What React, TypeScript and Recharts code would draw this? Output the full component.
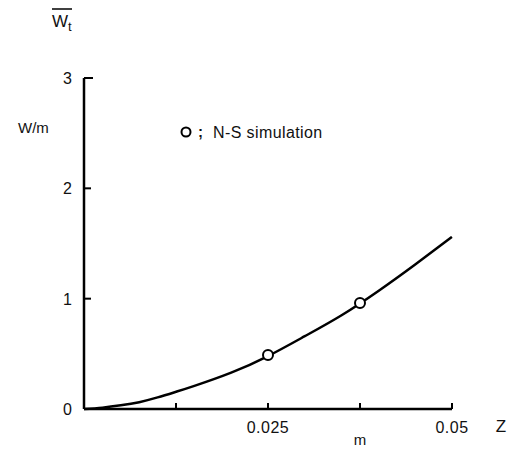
import React from "react";
import { ComposedChart, Line, Scatter, XAxis, YAxis } from "recharts";

// curve W/m vs Z
const CURVE_Z = [0, 0.0025, 0.005, 0.0075, 0.01, 0.0125, 0.015, 0.02, 0.025, 0.03, 0.035, 0.04, 0.045, 0.05];
const CURVE_W = [0, 0.012, 0.033, 0.062, 0.105, 0.156, 0.21, 0.33, 0.48, 0.66, 0.85, 1.07, 1.31, 1.56];

// N-S simulation points
const SIM_Z = [0.025, 0.0375];
const SIM_W = [0.49, 0.96];

const X_TICKS = [0, 0.0125, 0.025, 0.0375, 0.05];
const X_TICK_LABELS = ["", "", "0.025", "", "0.05"];
const Y_TICKS = [0, 1, 2, 3];
const Y_TICK_LABELS = ["0", "1", "2", "3"];

const FONT = "'Liberation Sans', Arial, sans-serif";

const curve = CURVE_Z.map((z, i) => ({ z, w: CURVE_W[i] }));
const sim = SIM_Z.map((z, i) => ({ z, w: SIM_W[i] }));

const XTick = (props: any) => {
  const { x, y, index } = props;
  return (
    <g>
      <line x1={x} y1={y} x2={x} y2={y - 6} stroke="#000" strokeWidth={2} />
      <text
        x={x}
        y={y + 24}
        textAnchor="middle"
        fontSize={16}
        letterSpacing={0.5}
        fontFamily={FONT}
        fill="#111"
      >
        {X_TICK_LABELS[index]}
      </text>
    </g>
  );
};

const YTick = (props: any) => {
  const { x, y, index } = props;
  const len = index === Y_TICKS.length - 1 ? 9 : 7;
  return (
    <g>
      <line x1={x} y1={y} x2={x + len} y2={y} stroke="#000" strokeWidth={2} />
      <text x={x - 12} y={y + 6} textAnchor="end" fontSize={16} fontFamily={FONT} fill="#111">
        {Y_TICK_LABELS[index]}
      </text>
    </g>
  );
};

const Circle = (props: any) => (
  <circle cx={props.cx} cy={props.cy} r={5} fill="#fff" stroke="#000" strokeWidth={2} />
);

export default function App() {
  return (
    <div style={{ position: "absolute", left: 0, top: 0, width: 511, height: 449, background: "#fff" }}>
      <ComposedChart width={511} height={449} margin={{ top: 78, right: 59, bottom: 0, left: 0 }}>
        <XAxis
          type="number"
          dataKey="z"
          domain={[0, 0.05]}
          ticks={X_TICKS}
          interval={0}
          tickSize={0}
          tickMargin={0}
          tickLine={false}
          tick={<XTick />}
          height={40}
          axisLine={{ stroke: "#000", strokeWidth: 2.5 }}
        />
        <YAxis
          type="number"
          dataKey="w"
          domain={[0, 3]}
          ticks={Y_TICKS}
          interval={0}
          tickSize={0}
          tickMargin={0}
          tickLine={false}
          tick={<YTick />}
          width={84}
          axisLine={{ stroke: "#000", strokeWidth: 2.5 }}
        />
        <Line
          data={curve}
          dataKey="w"
          type="natural"
          stroke="#000"
          strokeWidth={2.5}
          dot={false}
          isAnimationActive={false}
        />
        <Scatter data={sim} dataKey="w" shape={<Circle />} isAnimationActive={false} />
      </ComposedChart>
      <svg
        width={511}
        height={449}
        style={{ position: "absolute", left: 0, top: 0, pointerEvents: "none" }}
        fontFamily={FONT}
      >
        <line x1={52} y1={9} x2={72} y2={9} stroke="#000" strokeWidth={1.5} />
        <text x={52} y={27} fontSize={17} fill="#111">
          W
          <tspan fontSize={13} dy={4}>t</tspan>
        </text>
        <text x={18} y={133} fontSize={15} fill="#111">W/m</text>
        <circle cx={186} cy={132} r={4.5} fill="none" stroke="#000" strokeWidth={2} />
        <text x={198} y={137} fontSize={15} fontWeight="bold" fill="#111">;</text>
        <text x={213} y={138} fontSize={16} letterSpacing={0.4} fill="#111">N-S simulation</text>
        <text x={501} y={432} fontSize={17} textAnchor="middle" fill="#111">Z</text>
        <text x={360} y={445} fontSize={15} textAnchor="middle" fill="#111">m</text>
      </svg>
    </div>
  );
}
